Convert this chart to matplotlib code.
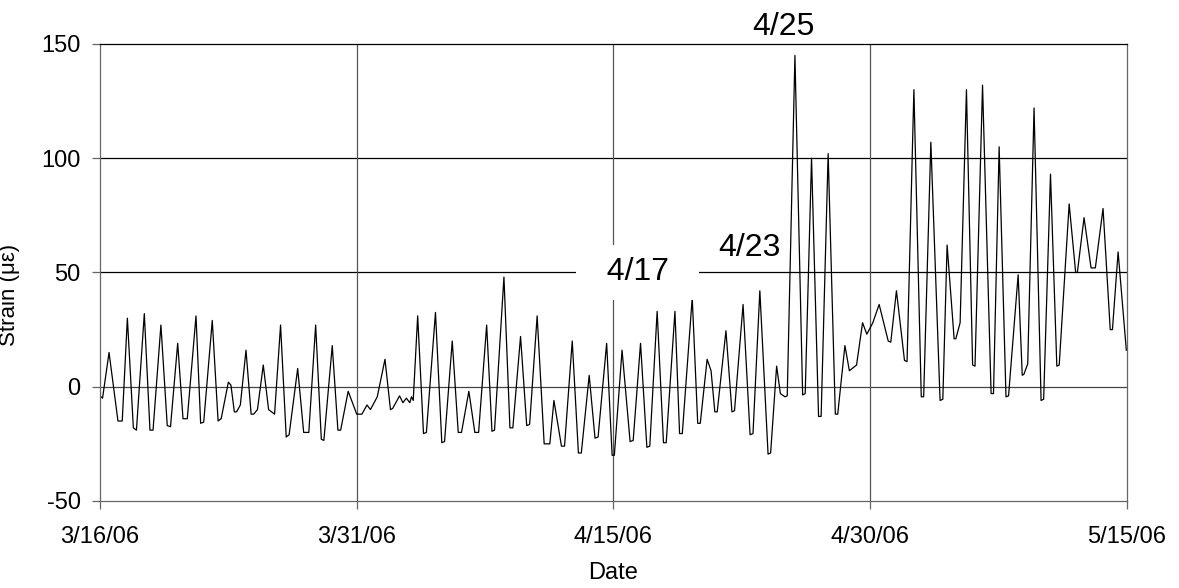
import matplotlib
matplotlib.use("Agg")
import matplotlib.pyplot as plt
import pandas as pd

plt.rcParams['font.family'] = ['Liberation Sans', 'DejaVu Sans']
plt.rcParams['axes.unicode_minus'] = False

# time in days after 3/16/06, strain in micro-strain (read off the plot:
# daily peaks, and both ends of each flat trough)
days = [
    0.0, 0.15, 0.53, 1.05, 1.3, 1.6, 1.95, 2.13, 2.59, 2.92,
    3.1, 3.56, 3.93, 4.12, 4.54, 4.85, 5.1, 5.61, 5.88, 6.06,
    6.56, 6.9, 7.08, 7.5, 7.65, 7.85, 7.98, 8.2, 8.53, 8.83,
    8.98, 9.2, 9.54, 9.85, 10.2, 10.55, 10.88, 11.05, 11.55, 11.9,
    12.2, 12.6, 12.93, 13.08, 13.57, 13.9, 14.06, 14.5, 15.0, 15.3,
    15.6, 15.8, 16.2, 16.65, 16.97, 17.1, 17.5, 17.7, 17.9, 18.1,
    18.2, 18.3, 18.56, 18.9, 19.07, 19.6, 19.97, 20.13, 20.58, 20.93,
    21.12, 21.55, 21.9, 22.12, 22.59, 22.9, 23.05, 23.6, 23.95, 24.12,
    24.57, 24.93, 25.1, 25.54, 25.95, 26.28, 26.52, 26.96, 27.14, 27.59,
    27.95, 28.12, 28.58, 28.92, 29.1, 29.6, 29.92, 30.05, 30.5, 30.97,
    31.15, 31.58, 31.95, 32.12, 32.55, 32.92, 33.08, 33.59, 33.86, 34.02,
    34.6, 34.92, 35.07, 35.47, 35.7, 35.92, 36.06, 36.57, 36.92, 37.07,
    37.57, 37.98, 38.15, 38.55, 39.03, 39.18, 39.53, 39.75, 40.02, 40.15,
    40.6, 41.05, 41.2, 41.57, 41.98, 42.13, 42.54, 42.96, 43.1, 43.52,
    43.78, 44.2, 44.55, 44.8, 45.15, 45.52, 46.05, 46.2, 46.53, 47.0,
    47.15, 47.55, 47.98, 48.12, 48.54, 49.08, 49.24, 49.49, 49.9, 50.0,
    50.25, 50.62, 50.98, 51.12, 51.56, 52.06, 52.2, 52.53, 52.93, 53.08,
    53.64, 53.88, 53.98, 54.2, 54.57, 54.98, 55.13, 55.53, 55.9, 56.04,
    56.62, 57.0, 57.1, 57.49, 57.9, 58.15, 58.6, 59.02, 59.15, 59.48,
    59.96,
]
strain = [
    -4, -5, 15, -15, -15, 30, -18, -19, 32, -19,
    -19, 27, -17, -17.5, 19, -14, -14, 31, -16, -15.5,
    29, -15, -14, 2, 0.7, -11, -11, -8, 16, -12,
    -12, -10, 9.5, -10, -12, 27, -22, -21, 8, -20,
    -20, 27, -23, -23.5, 18, -19, -19, -2, -12, -12,
    -8, -10, -4.4, 12, -10, -9.5, -4, -7, -5, -7,
    -4.4, -6, 31, -20.5, -20, 32.5, -24.5, -24, 20, -20,
    -20, -2, -20, -20, 27, -19.5, -19, 48, -18, -18,
    22, -17, -16.5, 31, -25, -25, -6, -26, -26, 20,
    -29, -29, 5, -22.5, -22, 19, -30, -30, 16, -24,
    -23.5, 19, -26.5, -26, 33, -24.5, -24.5, 33, -20.5, -20.5,
    39, -16, -16, 12, 7, -11, -11, 24.5, -11, -10.5,
    36, -21, -20.5, 42, -29.5, -29, 9, -3, -4.4, -4,
    145, -3.6, -3, 100, -13, -13, 102, -12, -12, 18,
    7, 9.5, 28, 23, 28, 36, 20, 19.5, 42, 11.5,
    11, 130, -4.4, -4.4, 107, -6, -5.5, 62, 21, 21,
    28, 130, 9.5, 9, 132, -3, -3, 105, -4.4, -4,
    49, 5, 5.5, 10, 122, -6, -5.5, 93, 9, 9.5,
    80, 50, 50, 74, 52, 52, 78, 25, 25, 59,
    16,
]

tick_dates = ["2006-03-16", "2006-03-31", "2006-04-15", "2006-04-30", "2006-05-15"]
tick_labels = ["3/16/06", "3/31/06", "4/15/06", "4/30/06", "5/15/06"]
y_ticks = [-50, 0, 50, 100, 150]

start = pd.Timestamp("2006-03-16")
t = start + pd.to_timedelta(days, unit="D")
ticks = pd.to_datetime(tick_dates)

fig = plt.figure(figsize=(11.79, 5.88), dpi=100)
ax = fig.add_axes([0.0848, 0.148, 0.8711, 0.7772])

ax.plot(t, strain, color="black", linewidth=0.9)

ax.set_xlim(ticks[0], ticks[-1])
ax.set_ylim(-50, 150)
ax.set_xticks(ticks)
ax.set_xticklabels(tick_labels)
ax.set_yticks(y_ticks)

for v in [0, 50, 100]:
    ax.axhline(v, color="black" if v else "#444444", linewidth=0.9, zorder=0)
for d in ticks[1:-1]:
    ax.axvline(d, color="#555555", linewidth=0.9, zorder=0)

for side in ["left", "bottom", "right"]:
    ax.spines[side].set_color("#666666")
ax.spines["top"].set_color("black")
for s in ax.spines.values():
    s.set_linewidth(0.9)

ax.tick_params(axis="both", direction="out", length=6, width=0.9,
               color="#666666", labelsize=17, pad=8)
ax.tick_params(axis="x", pad=12)

ax.set_xlabel("Date", fontsize=17, labelpad=10)
ax.set_ylabel("Strain (\u03bc\u03b5)", fontsize=16)
ax.yaxis.set_label_coords(-0.078, 0.45)

ax.text(start + pd.Timedelta(days=31.4), 50, "  4/17  ", fontsize=23,
        ha="center", va="center",
        bbox=dict(boxstyle="square,pad=0.4", facecolor="white", edgecolor="none"))
ax.text(start + pd.Timedelta(days=37.97), 60.7, "4/23", fontsize=23,
        ha="center", va="center")
ax.text(start + pd.Timedelta(days=39.9), 157.5, "4/25", fontsize=23,
        ha="center", va="center", clip_on=False)

fig.savefig("out.png", dpi=100)
